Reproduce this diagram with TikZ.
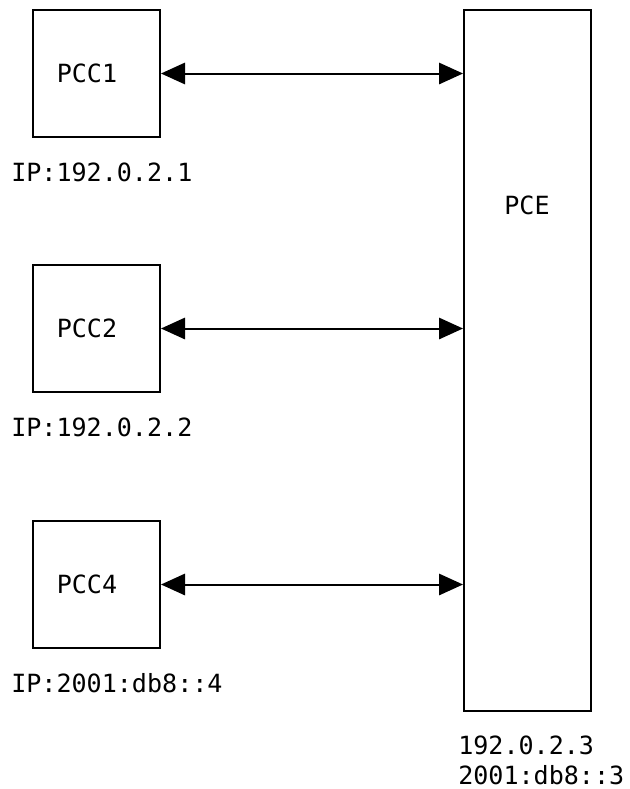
\documentclass[tikz,border=0pt]{standalone}
\usepackage{fontspec}
\setmonofont{DejaVu Sans Mono}
\usetikzlibrary{arrows.meta}
\begin{document}
\begin{tikzpicture}[x=0.75pt,y=-0.75pt,
  box/.style={draw, line width=1.5pt, inner sep=0pt},
  lbl/.style={font=\ttfamily\fontsize{18.8}{22}\selectfont, inner sep=0pt},
  link/.style={line width=1.5pt, {Triangle[length=18pt,width=16pt]}-{Triangle[length=18pt,width=16pt]}}]
\useasboundingbox (0,0) rectangle (630,789);
\node[box, minimum width=127*0.75pt, minimum height=127*0.75pt] (pcc1) at (96.5,73.5) {};
\node[box, minimum width=127*0.75pt, minimum height=127*0.75pt] (pcc2) at (96.5,328.5) {};
\node[box, minimum width=127*0.75pt, minimum height=127*0.75pt] (pcc4) at (96.5,584.5) {};
\node[box, minimum width=127*0.75pt, minimum height=701*0.75pt] (pce) at (527.5,360.5) {};
\node[lbl] (t1) at (87,73) {PCC1};
\node[lbl] (t2) at (87,328) {PCC2};
\node[lbl] (t4) at (87,584) {PCC4};
\node[lbl] (te) at (527,205) {PCE};
\node[lbl, anchor=west] (ip1) at (11,172) {IP:192.0.2.1};
\node[lbl, anchor=west] (ip2) at (11,427) {IP:192.0.2.2};
\node[lbl, anchor=west] (ip4) at (11,683) {IP:2001:db8::4};
\node[lbl, anchor=west] (ipe1) at (458,745) {192.0.2.3};
\node[lbl, anchor=west] (ipe2) at (458,775) {2001:db8::3};
\draw[link] (pcc1.east) -- (pcc1.east -| pce.west);
\draw[link] (pcc2.east) -- (pcc2.east -| pce.west);
\draw[link] (pcc4.east) -- (pcc4.east -| pce.west);
\end{tikzpicture}
\end{document}
